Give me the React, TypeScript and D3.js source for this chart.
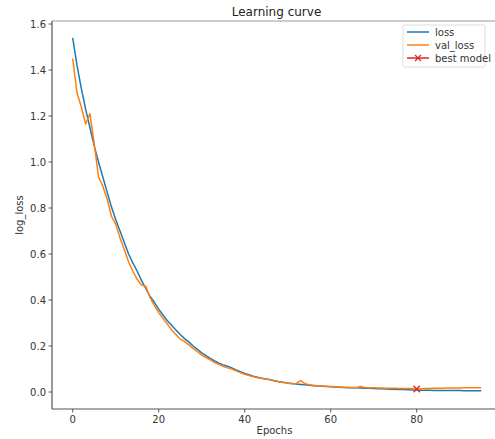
import React from "react";
import * as d3 from "d3";

const epochs: number[] = Array.from({ length: 96 }, (_, i) => i);

const loss: number[] = [
  1.54, 1.42, 1.32, 1.23, 1.15, 1.07, 1.0, 0.935, 0.87, 0.805,
  0.75, 0.7, 0.65, 0.6, 0.56, 0.525, 0.485, 0.45, 0.415, 0.39,
  0.36, 0.335, 0.31, 0.29, 0.27, 0.25, 0.232, 0.218, 0.2, 0.185,
  0.17, 0.158, 0.146, 0.135, 0.125, 0.118, 0.112, 0.105, 0.096, 0.088,
  0.081, 0.075, 0.069, 0.064, 0.06, 0.057, 0.053, 0.049, 0.045, 0.042,
  0.039, 0.037, 0.035, 0.033, 0.031, 0.029, 0.027, 0.026, 0.025, 0.024,
  0.023, 0.022, 0.021, 0.02, 0.019, 0.019, 0.018, 0.017, 0.016, 0.016,
  0.015, 0.014, 0.014, 0.013, 0.012, 0.012, 0.011, 0.011, 0.01, 0.009,
  0.009, 0.008, 0.008, 0.008, 0.007, 0.007, 0.007, 0.006, 0.006, 0.006,
  0.006, 0.005, 0.005, 0.005, 0.005, 0.005,
];

const valLoss: number[] = [
  1.45, 1.3, 1.24, 1.165, 1.21, 1.08, 0.935, 0.895, 0.84, 0.765,
  0.73, 0.67, 0.62, 0.565, 0.525, 0.49, 0.465, 0.46, 0.41, 0.375,
  0.345, 0.32, 0.295, 0.27, 0.25, 0.23, 0.22, 0.205, 0.19, 0.175,
  0.16, 0.15, 0.14, 0.128, 0.12, 0.112, 0.105, 0.1, 0.092, 0.084,
  0.077, 0.072, 0.066, 0.062, 0.059, 0.056, 0.052, 0.048, 0.044, 0.041,
  0.038, 0.036, 0.037, 0.05, 0.036, 0.032, 0.029, 0.027, 0.026, 0.025,
  0.024, 0.023, 0.022, 0.021, 0.021, 0.02, 0.02, 0.024, 0.019, 0.018,
  0.018, 0.017, 0.017, 0.016, 0.016, 0.016, 0.015, 0.015, 0.015, 0.014,
  0.013, 0.014, 0.015, 0.015, 0.016, 0.016, 0.016, 0.017, 0.017, 0.017,
  0.017, 0.018, 0.018, 0.018, 0.018, 0.018,
];

const bestEpoch = 80;
const bestValue = 0.013;

const xTicks: number[] = [0, 20, 40, 60, 80];
const yTicks: number[] = [0.0, 0.2, 0.4, 0.6, 0.8, 1.0, 1.2, 1.4, 1.6];

const legendItems = [
  { label: "loss", color: "#1f77b4", marker: false },
  { label: "val_loss", color: "#ff7f0e", marker: false },
  { label: "best model", color: "#d62728", marker: true },
];

const W = 495;
const H = 439;
const FONT = "DejaVu Sans, sans-serif";

export default function App() {
  const axLeft = 52;
  const axRight = 501;
  const axTop = 21;
  const axBottom = 409;

  const x = d3.scaleLinear().domain([0, 95]).range([72.7, 72.7 + 95 * 4.3]);
  const y = d3.scaleLinear().domain([0, 1.6]).range([392, 392 - 1.6 * 230]);

  const line = d3
    .line<[number, number]>()
    .x((d) => x(d[0]))
    .y((d) => y(d[1]));

  const lossPath = line(epochs.map((e, i) => [e, loss[i]]) as [number, number][]) || "";
  const valPath = line(epochs.map((e, i) => [e, valLoss[i]]) as [number, number][]) || "";

  const bx = x(bestEpoch);
  const by = y(bestValue);
  const ms = 3.2;

  return (
    <svg
      width={W}
      height={H}
      style={{ position: "absolute", left: 0, top: 0, display: "block", background: "#fff" }}
      fontFamily={FONT}
    >
      <rect x={0} y={0} width={W} height={H} fill="#fff" />
      <text x={(axLeft + axRight) / 2} y={16} textAnchor="middle" fontSize={12} fill="#222">
        Learning curve
      </text>

      <path d={lossPath} fill="none" stroke="#1f77b4" strokeWidth={1.5} strokeLinejoin="round" />
      <path d={valPath} fill="none" stroke="#ff7f0e" strokeWidth={1.5} strokeLinejoin="round" />
      <g stroke="#d62728" strokeWidth={1.3}>
        <line x1={bx - ms} y1={by - ms} x2={bx + ms} y2={by + ms} />
        <line x1={bx - ms} y1={by + ms} x2={bx + ms} y2={by - ms} />
      </g>

      {/* spines */}
      <line x1={axLeft} y1={axTop} x2={axRight} y2={axTop} stroke="#999" strokeWidth={1.2} />
      <line x1={axLeft} y1={axTop} x2={axLeft} y2={axBottom} stroke="#333" strokeWidth={1} />
      <line x1={axLeft} y1={axBottom} x2={axRight} y2={axBottom} stroke="#555" strokeWidth={1.2} />

      {yTicks.map((t) => (
        <g key={"y" + t}>
          <line x1={axLeft - 3.5} x2={axLeft} y1={y(t)} y2={y(t)} stroke="#333" strokeWidth={0.8} />
          <text x={axLeft - 6} y={y(t)} dy="0.35em" textAnchor="end" fontSize={10} fill="#333">
            {t.toFixed(1)}
          </text>
        </g>
      ))}
      {xTicks.map((t) => (
        <g key={"x" + t}>
          <line x1={x(t)} x2={x(t)} y1={axBottom} y2={axBottom + 3.5} stroke="#333" strokeWidth={0.8} />
          <text x={x(t)} y={axBottom + 14} textAnchor="middle" fontSize={10} fill="#333">
            {t}
          </text>
        </g>
      ))}

      <text x={(axLeft + axRight) / 2 - 2} y={434} textAnchor="middle" fontSize={10} fill="#333">
        Epochs
      </text>
      <text
        transform={`translate(${23},${(axTop + axBottom) / 2}) rotate(-90)`}
        textAnchor="middle"
        fontSize={10}
        fill="#333"
      >
        log_loss
      </text>

      {/* legend */}
      <g>
        <rect x={403} y={25} width={82} height={42} rx={2} fill="#fff" fillOpacity={0.85} stroke="#ddd" strokeWidth={1} />
        {legendItems.map((it, i) => {
          const ly = 32 + i * 13;
          return (
            <g key={it.label}>
              <line x1={407} x2={429} y1={ly} y2={ly} stroke={it.color} strokeWidth={1.5} />
              {it.marker && (
                <g stroke={it.color} strokeWidth={1.2}>
                  <line x1={418 - 3} y1={ly - 3} x2={418 + 3} y2={ly + 3} />
                  <line x1={418 - 3} y1={ly + 3} x2={418 + 3} y2={ly - 3} />
                </g>
              )}
              <text x={435} y={ly} dy="0.35em" fontSize={10} fill="#333">
                {it.label}
              </text>
            </g>
          );
        })}
      </g>
    </svg>
  );
}
